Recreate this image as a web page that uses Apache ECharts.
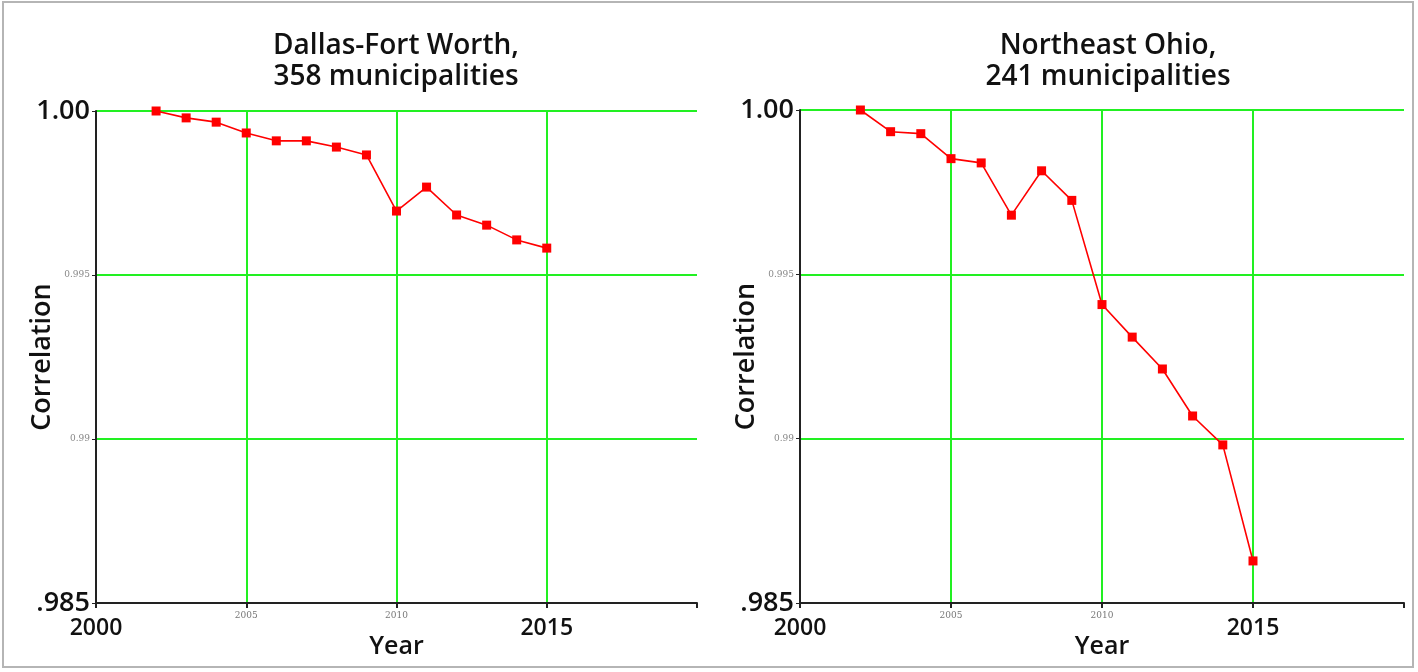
<!DOCTYPE html>
<html>
<head>
<meta charset="utf-8">
<script src="https://cdn.jsdelivr.net/npm/echarts@6/dist/echarts.min.js"></script>
<style>
	html, body { margin: 0; padding: 0; background: #fff; }
	#chart { width: 1418px; height: 672px; }
</style>
</head>
<body>
<div id="chart"></div>
<script>
// data
const years = [2002, 2003, 2004, 2005, 2006, 2007, 2008, 2009, 2010, 2011, 2012, 2013, 2014, 2015]
const dfwValues = [1.0000, 0.99979, 0.99966, 0.99933, 0.99909, 0.99909, 0.99890, 0.99866, 0.99695, 0.99768, 0.99683, 0.99652, 0.99607, 0.99582]
const ohioValues = [1.0000, 0.99934, 0.99928, 0.99852, 0.99839, 0.99680, 0.99815, 0.99725, 0.99408, 0.99309, 0.99212, 0.99069, 0.98981, 0.98628]

const panelTitles = ['Dallas-Fort Worth,\n358 municipalities', 'Northeast Ohio,\n241 municipalities']
// tick labels: big ones are bold, the rest tiny grey
const yTickLabels = { '0.985': '.985', '0.99': '0.99', '0.995': '0.995', '1': '1.00' }
const yBigTicks = ['.985', '1.00']
const xTickLabels = { 2000: '2000', 2005: '2005', 2010: '2010', 2015: '2015' }
const xBigTicks = ['2000', '2015']

const FONT = '"Open Sans", Lato, sans-serif'
const GREEN = '#22f022'
const RED = '#ff0000'

const chart = echarts.init(document.getElementById('chart'))

const yFormatter = (v) => {
	const key = String(Math.round(v * 1000) / 1000)
	const txt = yTickLabels[key]
	if (!txt) return ''
	return yBigTicks.includes(txt) ? '{big|' + txt + '}' : '{small|' + txt + '}'
}
const xFormatter = (v) => {
	const txt = xTickLabels[Math.round(v)]
	if (!txt) return ''
	return xBigTicks.includes(txt) ? '{big|' + txt + '}' : '{small|' + txt + '}'
}

const grids = [
	{ left: 96, top: 111, width: 601, bottom: 69, outerBoundsMode: 'none' },
	{ left: 800, top: 110, width: 604, bottom: 69, outerBoundsMode: 'none' }
]

const makeX = (i) => ({
	gridIndex: i,
	type: 'value',
	min: 2000,
	max: 2020,
	interval: 5,
	name: 'Year',
	nameLocation: 'middle',
	nameGap: 31,
	nameMoveOverlap: false,
	nameTextStyle: { fontFamily: FONT, fontSize: 25, fontWeight: 600, color: '#111' },
	axisLine: { show: true, lineStyle: { color: '#222', width: 2 } },
	axisTick: { show: true, length: 5, lineStyle: { color: '#222', width: 2 } },
	splitLine: { show: true, showMinLine: false, showMaxLine: false, lineStyle: { color: GREEN, width: 2 } },
	axisLabel: {
		margin: 6,
		formatter: xFormatter,
		rich: {
			big: { fontFamily: FONT, fontSize: 23, fontWeight: 600, color: '#111', padding: [8, 0, 0, 0] },
			small: { fontFamily: 'DejaVu Serif, serif', fontSize: 9, color: '#777', padding: [2, 0, 0, 0] }
		}
	}
})

const makeY = (i) => ({
	gridIndex: i,
	type: 'value',
	min: 0.985,
	max: 1.0,
	interval: 0.005,
	name: 'Correlation',
	nameLocation: 'middle',
	nameGap: 40,
	nameMoveOverlap: false,
	nameTextStyle: { fontFamily: FONT, fontSize: 27, fontWeight: 600, color: '#111' },
	axisLine: { show: true, lineStyle: { color: '#222', width: 2 } },
	axisTick: { show: true, length: 4, lineStyle: { color: '#222', width: 1 } },
	splitLine: { show: true, lineStyle: { color: GREEN, width: 2 } },
	axisLabel: {
		margin: 6,
		formatter: yFormatter,
		rich: {
			big: { fontFamily: FONT, fontSize: 27, fontWeight: 600, color: '#111' },
			small: { fontFamily: 'DejaVu Serif, serif', fontSize: 9, color: '#888' }
		}
	}
})

const makeSeries = (i, values) => ({
	type: 'line',
	xAxisIndex: i,
	yAxisIndex: i,
	data: years.map((y, k) => [y, values[k]]),
	symbol: 'rect',
	symbolSize: 9,
	showAllSymbol: true,
	lineStyle: { color: RED, width: 1.6 },
	itemStyle: { color: RED },
	z: 5
})

const option = {
	animation: false,
	backgroundColor: '#fff',
	grid: grids,
	xAxis: [makeX(0), makeX(1)],
	yAxis: [makeY(0), makeY(1)],
	series: [makeSeries(0, dfwValues), makeSeries(1, ohioValues)],
	graphic: [
		{
			type: 'rect',
			shape: { x: 3, y: 2, width: 1410, height: 665 },
			style: { fill: 'none', stroke: '#b5b5b5', lineWidth: 2 },
			silent: true
		},
		{
			type: 'text',
			x: 396, y: 31,
			style: { text: panelTitles[0], textAlign: 'center', fontFamily: FONT, fontSize: 28, fontWeight: 600, fill: '#111', lineHeight: 31 }
		},
		{
			type: 'text',
			x: 1108, y: 31,
			style: { text: panelTitles[1], textAlign: 'center', fontFamily: FONT, fontSize: 28, fontWeight: 600, fill: '#111', lineHeight: 31 }
		}
	]
}

chart.setOption(option)
</script>
</body>
</html>
